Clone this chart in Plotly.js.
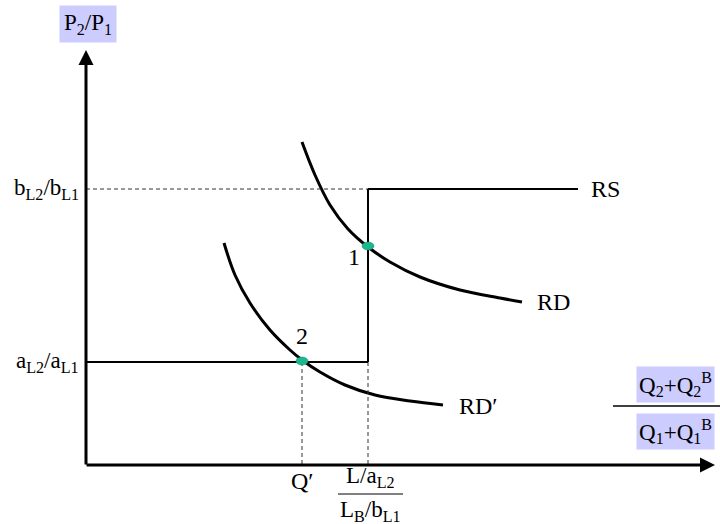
<!DOCTYPE html>
<html>
<head>
<meta charset="utf-8">
<script src="https://cdn.plot.ly/plotly-3.0.1.min.js"></script>
<style>html,body{margin:0;padding:0;background:#fff;}#chart{width:720px;height:524px;}</style>
</head>
<body>
<div id="chart"></div>
<script>
// Coordinates in a diagram space (x right, y down)
const rdX = [302, 315, 330, 348, 368, 390, 420, 460, 500, 522];
const rdY = [142, 175, 205, 229, 247, 262, 277, 290, 298, 302];
const rdpX = [224, 235, 250, 270, 290, 302, 320, 345, 375, 410, 443];
const rdpY = [243, 275, 303, 330, 350, 360, 372, 385, 395, 401, 405];
const eqX = [368, 302];
const eqY = [246, 361];
const eqLabels = ['1', '2'];

const origin = {x: 86, y: 465};
const yTop = 50, xRight = 715;
const bLevel = 189, aLevel = 362;
const kinkX = 368, qPrimeX = 302, rsEnd = 578;

const F = 'Liberation Serif';
const font = {family: F, size: 23, color: '#000'};
const fontL = {family: F, size: 24, color: '#000'};

const traces = [
  {x: rdX, y: rdY, mode: 'lines', line: {shape: 'spline', color: '#000', width: 3}, hoverinfo: 'skip'},
  {x: rdpX, y: rdpY, mode: 'lines', line: {shape: 'spline', color: '#000', width: 3}, hoverinfo: 'skip'}
];

const shapes = [
  // dashed guides
  {type: 'line', x0: origin.x, x1: kinkX, y0: bLevel, y1: bLevel, line: {color: '#333', width: 1, dash: '4px,3px'}},
  {type: 'line', x0: qPrimeX, x1: qPrimeX, y0: aLevel, y1: origin.y, line: {color: '#333', width: 1, dash: '4px,3px'}},
  {type: 'line', x0: kinkX, x1: kinkX, y0: aLevel, y1: origin.y, line: {color: '#333', width: 1, dash: '4px,3px'}},
  // RS
  {type: 'line', x0: origin.x, x1: kinkX, y0: aLevel, y1: aLevel, line: {color: '#000', width: 2}},
  {type: 'line', x0: kinkX, x1: kinkX, y0: aLevel, y1: bLevel, line: {color: '#000', width: 2}},
  {type: 'line', x0: kinkX, x1: rsEnd, y0: bLevel, y1: bLevel, line: {color: '#000', width: 2}},
  // fraction lines
  {type: 'line', x0: 338, x1: 403, y0: 494, y1: 494, line: {color: '#000', width: 1}},
  {type: 'line', x0: 613, x1: 720, y0: 406, y1: 406, line: {color: '#000', width: 1.5}}
];
// equilibrium points as small ellipses
eqX.forEach((x, i) => {
  shapes.push({type: 'circle', x0: x - 6, x1: x + 6, y0: eqY[i] - 4, y1: eqY[i] + 4,
    fillcolor: '#19b88e', line: {color: '#118866', width: 0.5}});
});

const annotations = [
  // axes arrows
  {x: origin.x, y: yTop, ax: origin.x, ay: origin.y + 1, xref: 'x', yref: 'y', axref: 'x', ayref: 'y', showarrow: true, arrowhead: 2, arrowsize: 1, arrowwidth: 3, arrowcolor: '#000', text: ''},
  {x: xRight, y: origin.y, ax: origin.x - 1, ay: origin.y, xref: 'x', yref: 'y', axref: 'x', ayref: 'y', showarrow: true, arrowhead: 2, arrowsize: 1, arrowwidth: 3, arrowcolor: '#000', text: ''},
  // labels
  {x: 88, y: 24, text: 'P<sub>2</sub>/P<sub>1</sub>', showarrow: false, font: font, bgcolor: '#ccccff', borderpad: 4},
  {x: 81, y: bLevel, xanchor: 'right', text: 'b<sub>L2</sub>/b<sub>L1</sub>', showarrow: false, font: font},
  {x: 81, y: aLevel, xanchor: 'right', text: 'a<sub>L2</sub>/a<sub>L1</sub>', showarrow: false, font: font},
  {x: 589, y: bLevel, xanchor: 'left', text: 'RS', showarrow: false, font: fontL},
  {x: 535, y: 302, xanchor: 'left', text: 'RD', showarrow: false, font: fontL},
  {x: 457, y: 406, xanchor: 'left', text: 'RD\u2032', showarrow: false, font: fontL},
  {x: 354, y: 257, text: eqLabels[0], showarrow: false, font: fontL},
  {x: 302, y: 336, text: eqLabels[1], showarrow: false, font: fontL},
  {x: qPrimeX, y: 481, text: 'Q\u2032', showarrow: false, font: fontL},
  {x: 370, y: 477, text: 'L/a<sub>L2</sub>', showarrow: false, font: font},
  {x: 370, y: 511, text: 'L<sub>B</sub>/b<sub>L1</sub>', showarrow: false, font: font},
  {x: 675, y: 384, text: 'Q<sub>2</sub>+Q<sub>2</sub><sup>B</sup>', showarrow: false, font: font, bgcolor: '#ccccff', borderpad: 2},
  {x: 675, y: 431, text: 'Q<sub>1</sub>+Q<sub>1</sub><sup>B</sup>', showarrow: false, font: font, bgcolor: '#ccccff', borderpad: 2}
];

const layout = {
  width: 720, height: 524,
  margin: {l: 0, r: 0, t: 0, b: 0},
  paper_bgcolor: '#fff', plot_bgcolor: '#fff',
  showlegend: false,
  xaxis: {range: [0, 720], visible: false, fixedrange: true},
  yaxis: {range: [524, 0], visible: false, fixedrange: true},
  shapes: shapes,
  annotations: annotations
};

Plotly.newPlot('chart', traces, layout, {displayModeBar: false, staticPlot: true});
</script>
</body>
</html>
